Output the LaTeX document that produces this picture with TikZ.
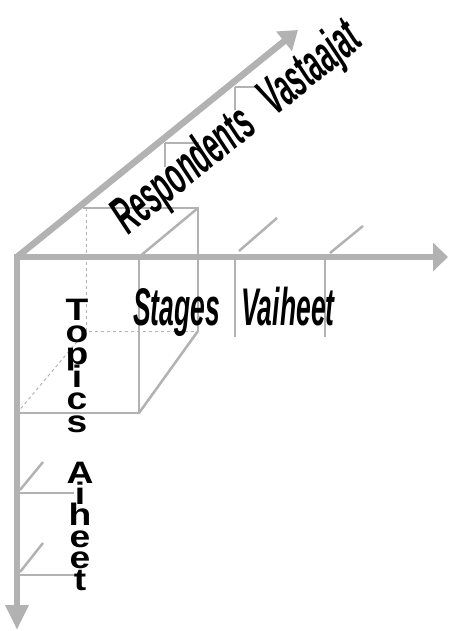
\documentclass[tikz,border=0pt]{standalone}
\usepackage{fontspec}
\setmainfont{Liberation Sans}
\usepackage{graphicx}
\usetikzlibrary{arrows.meta}
\definecolor{linegray}{RGB}{178,178,178}
\newcommand{\narrowtext}[1]{\scalebox{0.5}[1]{#1}}
\newcommand{\widetext}[1]{\scalebox{1.2}[1]{#1}}

\begin{document}
\begin{tikzpicture}[x=1pt, y=-1pt,
  axis/.style={line width=6.5pt, draw=linegray, fill=linegray},
  tick/.style={line width=2.5pt, draw=linegray},
  hidden/.style={line width=1pt, draw=linegray, dash pattern=on 3pt off 3pt},
  lbl/.style={inner sep=0pt, font=\fontsize{53}{53}\selectfont\bfseries\itshape},
  letter/.style={inner sep=0pt, anchor=base, font=\fontsize{31}{31}\selectfont\bfseries}]
\useasboundingbox (0,0) rectangle (448,631);
\coordinate (O) at (17,257);
\coordinate (X) at (448,257);
\coordinate (Y) at (17,630);
\coordinate (Z) at (298,30);
% hidden edges of the cube
\draw [hidden] (86,208) -- (86,331) -- (198,331);
\draw [hidden] (17,413) -- (86,331);
% cube
\draw [tick] (83,208) -- (198,208) -- (198,331);
\draw [tick] (139,257) -- (139,413) -- (17,413);
\draw [tick] (139,257) -- (198,208);
\draw [tick] (139,413) -- (198,331);
% respondents ticks
\draw [tick] (165,143) -- (199,143);
\draw [tick] (165,143) -- (165,167);
\draw [tick] (235,87) -- (260,87);
\draw [tick] (235,87) -- (235,110);
% stages ticks
\draw [tick] (235,257) -- (235,337);
\draw [tick] (325,257) -- (325,337);
\draw [tick] (239,251) -- (277,218);
\draw [tick] (330,253) -- (363,226);
% topics ticks
\draw [tick] (17,493) -- (74,493);
\draw [tick] (17,575) -- (74,575);
\draw [tick] (20,490) -- (43,462);
\draw [tick] (20,572) -- (43,543);
% axes
\draw [axis, -{Triangle[length=15pt,width=28pt]}] (O) -- (X);
\draw [axis, -{Triangle[length=25pt,width=22pt]}] (O) -- (Y);
\draw [axis, -{Triangle[length=18pt,width=24pt]}] (O) -- (Z);
\fill [linegray] (13.75,253.75) rectangle (20.25,260.25);
% labels
\node [lbl, anchor=base west, rotate=39] (resp) at (128,236) {\narrowtext{Respondents\hspace{0.8em}Vastaajat}};
\node [lbl, anchor=base west] (stages) at (133,325) {\narrowtext{Stages\hspace{0.8em}Vaiheet}};
\foreach \ch [count=\k from 0] in {T,o,p,i,c,s}
  \node [letter] (topic\k) at (77,320+22.4*\k) {\widetext{\ch}};
\foreach \ch [count=\k from 0] in {A,i,h,e,e,t}
  \node [letter] (aihe\k) at (80,483+21.4*\k) {\widetext{\ch}};
\end{tikzpicture}
\end{document}
